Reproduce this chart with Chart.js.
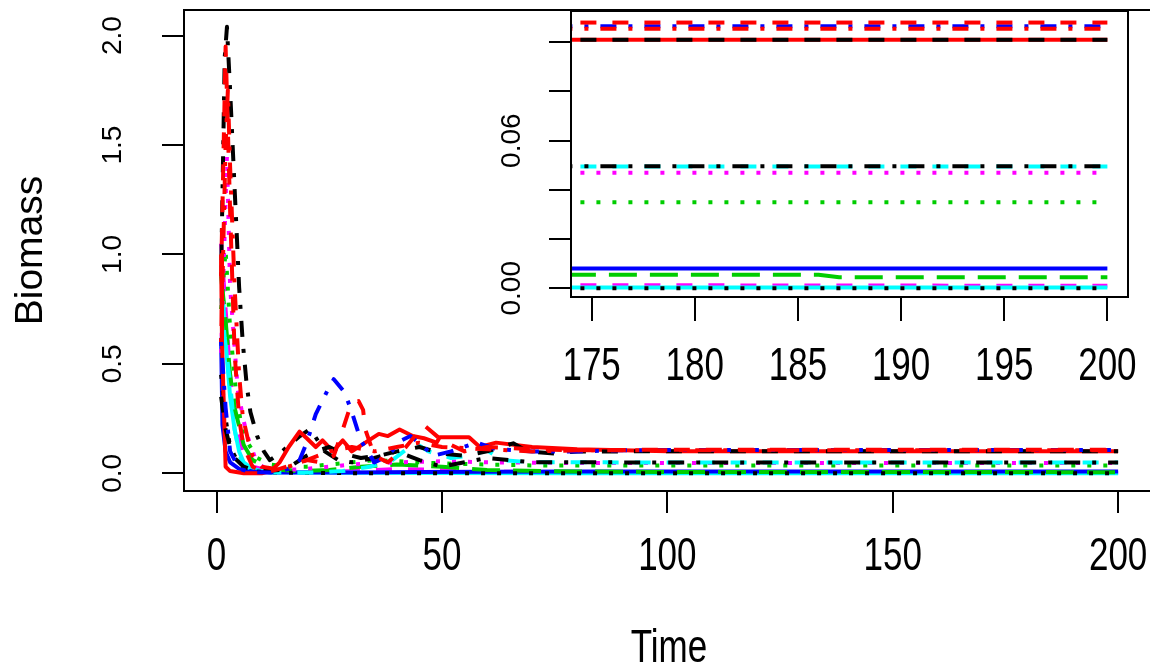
<!DOCTYPE html>
<html>
<head>
<meta charset="utf-8">
<script src="https://cdn.jsdelivr.net/npm/chart.js@4.4.1/dist/chart.umd.min.js"></script>
<style>
  html, body { margin: 0; padding: 0; background: #fff; overflow: hidden; width: 1150px; height: 670px; }
  #main { position: absolute; left: 0; top: 0; }
  #inset { position: absolute; left: 470px; top: 0; }
</style>
</head>
<body>
<canvas id="main" width="1160" height="670"></canvas>
<canvas id="inset" width="680" height="420"></canvas>
<script>
// ---------------- DATA ----------------
const mainXTicks = [0, 50, 100, 150, 200];
const mainYTicks = [0, 0.5, 1.0, 1.5, 2.0];
const mainYLabels = ['0.0', '0.5', '1.0', '1.5', '2.0'];
const insetXTicks = [175, 180, 185, 190, 195, 200];
const insetYTicks = [0, 0.02, 0.04, 0.06, 0.08, 0.10];
const insetYLabels = ['0.00', '', '', '0.06', '', ''];
const xTitle = 'Time';
const yTitle = 'Biomass';

const tMagentaDash = [1, 2, 3, 4, 6, 8, 12, 20, 30, 40, 50, 60, 80, 100, 200];
const vMagentaDash = [1.05, 0.75, 0.45, 0.25, 0.08, 0.03, 0.01, 0.005, 0.01, 0.02, 0.015, 0.008, 0.004, 0.002, 0.001];

const tCyanSolid = [1, 2, 3, 4, 5, 6, 8, 10, 14, 20, 30, 50, 80, 120, 200];
const vCyanSolid = [0.95, 0.6, 0.35, 0.2, 0.1, 0.05, 0.02, 0.01, 0.005, 0.003, 0.002, 0.001, 0.0005, 0.0003, 0.0003];

const tBlueSolid = [1, 1.3, 2, 3, 5, 8, 12, 20, 30, 45, 60, 80, 120, 200];
const vBlueSolid = [0.62, 0.22, 0.1, 0.05, 0.02, 0.008, 0.004, 0.003, 0.004, 0.006, 0.007, 0.008, 0.008, 0.008];

const tGreenLong = [1, 2, 3, 4, 6, 8, 12, 18, 25, 32, 40, 50, 60, 80, 100, 150, 186, 187, 200];
const vGreenLong = [0.9, 0.7, 0.45, 0.3, 0.13, 0.06, 0.02, 0.01, 0.015, 0.03, 0.04, 0.03, 0.015, 0.008, 0.006, 0.0055, 0.0055, 0.0045, 0.0045];

const tBlackDot = [1, 2, 3, 5, 8, 12, 20, 35, 60, 100, 200];
const vBlackDot = [0.45, 0.25, 0.12, 0.04, 0.01, 0.004, 0.001, 0.0005, 0.0002, 0, 0];

const tGreenDot = [1, 2, 3, 4.4, 5.5, 6.9, 9, 12, 16, 20, 25, 30, 35, 40, 45, 50, 60, 70, 80, 100, 200];
const vGreenDot = [0.75, 1.02, 0.66, 0.35, 0.22, 0.14, 0.07, 0.04, 0.03, 0.03, 0.04, 0.05, 0.06, 0.055, 0.05, 0.045, 0.04, 0.036, 0.035, 0.035, 0.035];

const tMagentaDot = [1, 2.3, 3, 4.7, 6, 7, 8.9, 11, 15, 20, 25, 30, 40, 50, 60, 80, 100, 200];
const vMagentaDot = [0.55, 1.45, 0.85, 0.38, 0.24, 0.16, 0.05, 0.02, 0.015, 0.02, 0.03, 0.04, 0.05, 0.055, 0.05, 0.047, 0.047, 0.047];

const tCyanDash = [1, 1.8, 2.9, 4, 5.5, 8, 12, 20, 28, 34, 39, 44, 47, 52, 56, 60, 63.5, 70, 80, 100, 200];
const vCyanDash = [0.8, 0.62, 0.43, 0.2, 0.05, 0.015, 0.004, 0.002, 0.01, 0.03, 0.06, 0.14, 0.1, 0.07, 0.08, 0.105, 0.06, 0.05, 0.05, 0.0495, 0.0495];

const tBlackDotDash = [1, 1.8, 2.3, 3, 4, 4.5, 5, 5.8, 6.7, 7.5, 9, 10.5, 11.8, 14, 16.2, 18.5, 20.6, 21.8, 24, 27, 30, 35, 40, 45, 50, 55, 60, 65, 70, 80, 100, 200];
const vBlackDotDash = [0.9, 1.9, 2.04, 1.75, 1.3, 1.08, 0.85, 0.6, 0.4, 0.28, 0.17, 0.1, 0.06, 0.09, 0.13, 0.17, 0.2, 0.17, 0.1, 0.06, 0.05, 0.07, 0.1, 0.06, 0.03, 0.05, 0.07, 0.06, 0.05, 0.05, 0.0496, 0.0496];

const tRedSolid = [1, 1.2, 2, 3, 6, 10, 12, 14, 16, 18.4, 20, 22, 23.5, 25.8, 28, 30, 33, 36, 38, 40.6, 43.5, 46, 48.8, 49.5, 56, 58.4, 62, 70, 80, 100, 200];
const vRedSolid = [1.0, 0.6, 0.03, 0.01, 0.0, 0.0, 0.01, 0.05, 0.12, 0.19, 0.16, 0.12, 0.15, 0.1, 0.15, 0.1, 0.14, 0.18, 0.17, 0.2, 0.17, 0.16, 0.14, 0.165, 0.165, 0.12, 0.14, 0.12, 0.11, 0.101, 0.101];

const tBlackDash = [1, 2, 3, 4, 6, 8, 11, 14, 17, 20, 22, 25, 28, 32, 36, 40, 45, 50, 55, 60, 65.8, 69, 75, 80, 90, 100, 200];
const vBlackDash = [0.35, 0.2, 0.12, 0.07, 0.03, 0.015, 0.01, 0.015, 0.04, 0.08, 0.1, 0.12, 0.09, 0.07, 0.08, 0.1, 0.12, 0.09, 0.08, 0.1, 0.137, 0.1, 0.09, 0.1, 0.1, 0.101, 0.101];

const tBlueDotDash = [1, 2, 3, 5, 8, 12, 16, 18.4, 20, 22, 24.4, 26, 28.4, 30, 32, 35, 38, 41, 43, 46, 48, 52, 57.7, 62, 70, 80, 90, 100, 200];
const vBlueDotDash = [0.6, 0.3, 0.1, 0.02, 0.005, 0.003, 0.02, 0.06, 0.14, 0.27, 0.37, 0.43, 0.37, 0.28, 0.15, 0.05, 0.08, 0.15, 0.17, 0.12, 0.08, 0.1, 0.14, 0.11, 0.1, 0.1, 0.105, 0.1065, 0.1065];

const tRedDotDash = [1, 2, 2.5, 3, 4, 5, 5.8, 7, 8, 10, 13, 16, 20, 25, 30, 35, 40, 45, 50, 60, 70, 80, 100, 200];
const vRedDotDash = [0.6, 1.5, 1.75, 1.4, 0.85, 0.45, 0.26, 0.15, 0.08, 0.03, 0.02, 0.03, 0.06, 0.1, 0.12, 0.1, 0.12, 0.14, 0.12, 0.11, 0.1, 0.105, 0.1055, 0.1055];

const tRedDash = [1, 2, 3, 4, 5, 6, 8, 10, 12, 14, 17, 20, 23, 26, 28, 29.9, 31.5, 32.5, 33, 35, 38, 42, 46, 50, 55, 60, 70, 80, 100, 200];
const vRedDash = [0.9, 1.95, 1.2, 0.55, 0.25, 0.12, 0.03, 0.01, 0.01, 0.02, 0.04, 0.06, 0.05, 0.08, 0.2, 0.32, 0.33, 0.29, 0.2, 0.08, 0.05, 0.12, 0.22, 0.15, 0.1, 0.12, 0.11, 0.105, 0.108, 0.108];

// ---------------- STYLES ----------------
const COL = { black: '#000000', red: '#FF0000', green: '#00CD00', blue: '#0000FF', cyan: '#00FFFF', magenta: '#FF00FF' };
const LTY = { solid: [], dashed: [16, 16], dotted: [4, 12], dotdash: [4, 12, 16, 12], longdash: [28, 13] };
const FONT_REG = "'Liberation Sans', Arial, sans-serif";
const H_FONT = "35px " + FONT_REG;   // horizontal text, drawn vertically stretched
const H_STRETCH = 1.32;
const V_FONT = "28px " + FONT_REG;   // rotated tick labels

// drawing order: first listed is drawn first (bottom)
const seriesList = [
  [tMagentaDash, vMagentaDash, COL.magenta, LTY.dashed],
  [tCyanSolid, vCyanSolid, COL.cyan, LTY.solid],
  [tBlueSolid, vBlueSolid, COL.blue, LTY.solid],
  [tGreenLong, vGreenLong, COL.green, LTY.longdash],
  [tBlackDot, vBlackDot, COL.black, LTY.dotted],
  [tGreenDot, vGreenDot, COL.green, LTY.dotted],
  [tMagentaDot, vMagentaDot, COL.magenta, LTY.dotted],
  [tCyanDash, vCyanDash, COL.cyan, LTY.dashed],
  [tBlackDotDash, vBlackDotDash, COL.black, LTY.dotdash],
  [tRedSolid, vRedSolid, COL.red, LTY.solid],
  [tBlackDash, vBlackDash, COL.black, LTY.dashed],
  [tBlueDotDash, vBlueDotDash, COL.blue, LTY.dotdash],
  [tRedDotDash, vRedDotDash, COL.red, LTY.dotdash],
  [tRedDash, vRedDash, COL.red, LTY.dashed]
];

function buildDatasets() {
  const n = seriesList.length;
  return seriesList.map(([ts, vs, color, dash], i) => ({
    data: ts.map((t, k) => ({ x: t, y: vs[k] })),
    borderColor: color,
    borderWidth: 4,
    borderDash: dash,
    borderCapStyle: 'butt',
    borderJoinStyle: 'round',
    pointRadius: 0,
    tension: 0,
    fill: false,
    order: n - i
  }));
}

const frameBox = {
  id: 'frameBox',
  afterDraw(chart) {
    const { ctx, chartArea: a } = chart;
    ctx.save();
    ctx.strokeStyle = '#000';
    ctx.lineWidth = 2;
    ctx.strokeRect(a.left, a.top, a.right - a.left, a.bottom - a.top);
    ctx.restore();
  }
};

// Tick labels and axis titles in the R style (rotated y labels, tall x labels)
const axisText = {
  id: 'axisText',
  afterDraw(chart, args, opts) {
    const ctx = chart.ctx;
    const sx = chart.scales.x, sy = chart.scales.y;
    ctx.save();
    ctx.fillStyle = '#000';
    ctx.textAlign = 'center';
    ctx.textBaseline = 'middle';
    // y labels, parallel to the axis
    ctx.font = V_FONT;
    opts.yValues.forEach((v, i) => {
      const txt = opts.yLabels[i];
      if (!txt) return;
      ctx.save();
      ctx.translate(opts.yLabelX, sy.getPixelForValue(v));
      ctx.rotate(-Math.PI / 2);
      ctx.fillText(txt, 0, 0);
      ctx.restore();
    });
    // x labels
    ctx.font = H_FONT;
    opts.xValues.forEach((v) => {
      ctx.save();
      ctx.translate(sx.getPixelForValue(v), opts.xLabelY);
      ctx.scale(1, H_STRETCH);
      ctx.fillText(String(v), 0, 0);
      ctx.restore();
    });
    if (opts.xTitle) {
      ctx.save();
      ctx.translate((chart.chartArea.left + chart.chartArea.right) / 2, opts.xTitleY);
      ctx.scale(1, H_STRETCH);
      ctx.fillText(opts.xTitle, 0, 0);
      ctx.restore();
    }
    ctx.restore();
  }
};

function axisCommon(tickLen) {
  return {
    grid: { drawOnChartArea: false, drawTicks: true, tickLength: tickLen, color: '#000', lineWidth: 2 },
    border: { display: true, color: '#000', width: 2 }
  };
}
function noPad(s) { s.paddingLeft = 0; s.paddingRight = 0; s.paddingTop = 0; s.paddingBottom = 0; }

// ---------------- MAIN CHART ----------------
new Chart(document.getElementById('main'), {
  type: 'line',
  data: { datasets: buildDatasets() },
  options: {
    responsive: false, animation: false, devicePixelRatio: 1,
    layout: { padding: { left: 0, top: 10, right: 6, bottom: 0 } },
    plugins: {
      legend: { display: false }, tooltip: { enabled: false },
      axisText: { yValues: mainYTicks, yLabels: mainYLabels, yLabelX: 113,
                  xValues: mainXTicks, xLabelY: 557, xTitle: xTitle, xTitleY: 649 }
    },
    scales: {
      x: Object.assign(axisCommon(22), {
        type: 'linear', position: 'bottom', min: -7.23, max: 207.96,
        afterBuildTicks: s => { s.ticks = mainXTicks.map(v => ({ value: v })); },
        afterFit: s => { s.height = 179; noPad(s); },
        ticks: { display: false }
      }),
      y: Object.assign(axisCommon(22), {
        type: 'linear', position: 'left', min: -0.081, max: 2.117,
        afterBuildTicks: s => { s.ticks = mainYTicks.map(v => ({ value: v })); },
        afterFit: s => { s.width = 184; noPad(s); },
        ticks: { display: false },
        title: { display: true, text: yTitle, color: '#000', font: { family: FONT_REG, size: 39 }, padding: { top: 8, bottom: 0 } }
      })
    }
  },
  plugins: [frameBox, axisText]
});

// ---------------- INSET CHART ----------------
new Chart(document.getElementById('inset'), {
  type: 'line',
  data: { datasets: buildDatasets() },
  options: {
    responsive: false, animation: false, devicePixelRatio: 1,
    layout: { padding: { left: 0, top: 11, right: 22, bottom: 0 } },
    plugins: {
      legend: { display: false }, tooltip: { enabled: false },
      axisText: { yValues: insetYTicks, yLabels: insetYLabels, yLabelX: 42,
                  xValues: insetXTicks, xLabelY: 367, xTitle: '', xTitleY: 0 }
    },
    scales: {
      x: Object.assign(axisCommon(24), {
        type: 'linear', position: 'bottom', min: 174, max: 201,
        afterBuildTicks: s => { s.ticks = insetXTicks.map(v => ({ value: v })); },
        afterFit: s => { s.height = 123; noPad(s); },
        ticks: { display: false }
      }),
      y: Object.assign(axisCommon(22), {
        type: 'linear', position: 'left', min: -0.00354, max: 0.1127,
        afterBuildTicks: s => { s.ticks = insetYTicks.map(v => ({ value: v })); },
        afterFit: s => { s.width = 101; noPad(s); },
        ticks: { display: false }
      })
    }
  },
  plugins: [frameBox, axisText]
});
</script>
</body>
</html>
